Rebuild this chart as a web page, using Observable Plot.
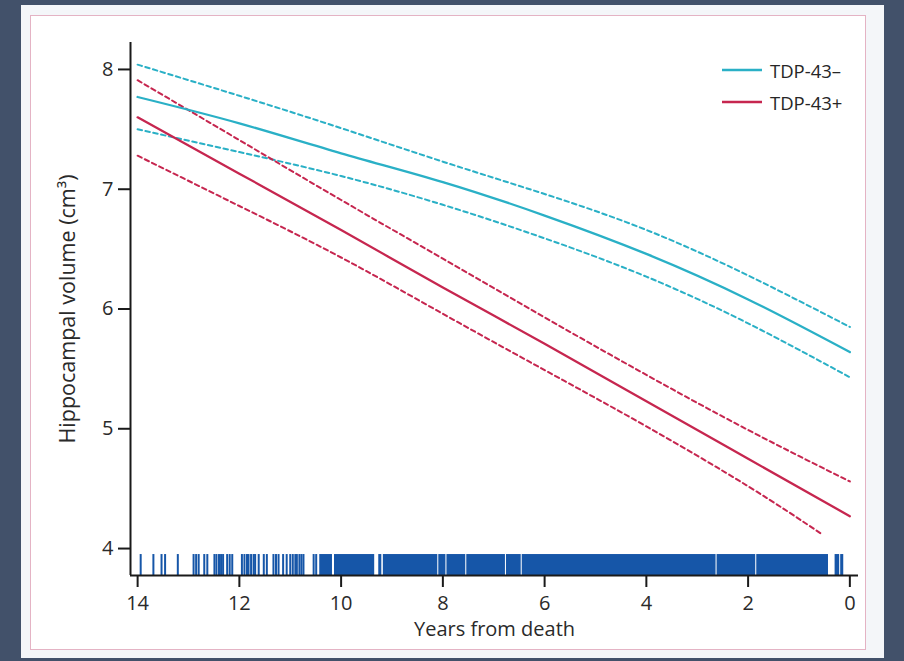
<!DOCTYPE html>
<html>
<head>
<meta charset="utf-8">
<script src="https://cdn.jsdelivr.net/npm/d3@7"></script>
<script src="https://cdn.jsdelivr.net/npm/@observablehq/plot@0.6"></script>
<style>
  html, body { margin: 0; padding: 0; width: 904px; height: 661px; overflow: hidden; background: #42516a; font-family: "Open Sans", sans-serif; }
  #outer { position: absolute; left: 21px; top: 5px; width: 863px; height: 653px; background: #f4f6f9; }
  #inner { position: absolute; left: 30px; top: 15px; width: 836px; height: 635px; background: #ffffff; border: 1.5px solid #e4b3c4; box-sizing: border-box; }
  #chart { position: absolute; left: 0; top: 0; }
  #chart svg { background: transparent; }
  #legend { position: absolute; left: 722px; top: 54px; font-size: 18.5px; color: #262626; }
  #legend .row { display: flex; align-items: center; height: 32px; }
  #legend svg { margin-right: 8px; }
</style>
</head>
<body>
<div id="outer"></div>
<div id="inner"></div>
<div id="chart"></div>
<div id="legend"></div>
<script>
// ---- data ----
const seriesNames = ["TDP-43–", "TDP-43+"];
const seriesColors = ["#2ab0c6", "#c6264f"];

const years = [14, 12, 10, 8, 6, 4, 2, 0];
const tdpNegFit   = [7.77, 7.55, 7.30, 7.06, 6.78, 6.46, 6.08, 5.64];
const tdpNegUpper = [8.04, 7.78, 7.51, 7.23, 6.96, 6.66, 6.28, 5.85];
const tdpNegLower = [7.50, 7.31, 7.11, 6.87, 6.59, 6.27, 5.88, 5.43];
const tdpPosFit   = [7.60, 7.13, 6.66, 6.18, 5.71, 5.23, 4.75, 4.27];
const tdpPosUpper = [7.91, 7.41, 6.91, 6.42, 5.93, 5.45, 4.99, 4.56];
const tdpPosLowerYears = [14, 12, 10, 8, 6, 4, 2, 0.55];
const tdpPosLower = [7.28, 6.86, 6.43, 5.96, 5.49, 5.02, 4.52, 4.12];

// rug: individual observations (years from death)
const rugTicks = [13.94, 13.69, 13.53, 13.46, 13.21, 12.90, 12.85, 12.80, 12.69, 12.63,
  12.49, 12.45, 12.40, 12.36, 12.32, 12.24, 12.19, 12.14, 11.95, 11.90, 11.85, 11.82,
  11.77, 11.72, 11.69, 11.62, 11.52, 11.46, 11.33, 11.28, 11.23, 11.14, 11.07, 11.00,
  10.95, 10.90, 10.87, 10.82, 10.78, 10.74, 10.54, 10.49];
// rug: stretches where observations are packed solid
const rugSpanStart = [10.42, 10.13, 9.26, 9.17, 8.08, 7.92, 7.53, 6.75, 6.44, 2.61, 1.83, 0.29, 0.18];
const rugSpanEnd   = [10.17, 9.34, 9.20, 8.10, 7.94, 7.55, 6.77, 6.46, 2.63, 1.85, 0.42, 0.20, 0.12];

const xTicks = [14, 12, 10, 8, 6, 4, 2, 0];
const yTicks = [4, 5, 6, 7, 8];
const xDomain = [14.14, -0.17];
const yDomain = [3.775, 8.225];
const rugTop = 3.95;

// ---- tables built from arrays ----
const lines = [];
function addSeries(xs, vals, series, kind) {
  xs.forEach((x, i) => lines.push({x, y: vals[i], series, kind, key: series + "|" + kind}));
}
addSeries(years, tdpNegFit, seriesNames[0], "fit");
addSeries(years, tdpNegUpper, seriesNames[0], "upper");
addSeries(years, tdpNegLower, seriesNames[0], "lower");
addSeries(years, tdpPosFit, seriesNames[1], "fit");
addSeries(years, tdpPosUpper, seriesNames[1], "upper");
addSeries(tdpPosLowerYears, tdpPosLower, seriesNames[1], "lower");

const spans = rugSpanStart.map((s, i) => ({x1: s, x2: rugSpanEnd[i]}));
const colorOf = s => seriesColors[seriesNames.indexOf(s)];

const rugColor = "#1656a8";
const axisColor = "#1a1a1a";
const textColor = "#2a2a2a";

const chart = Plot.plot({
  width: 904,
  height: 661,
  marginLeft: 130,
  marginRight: 46,
  marginTop: 42,
  marginBottom: 86,
  style: {fontFamily: "Open Sans, sans-serif", background: "transparent", overflow: "visible"},
  x: {domain: xDomain},
  y: {domain: yDomain},
  marks: [
    // rug
    Plot.rectX(spans, {x1: "x1", x2: "x2", y1: yDomain[0], y2: rugTop, fill: rugColor, inset: 0}),
    Plot.ruleX(rugTicks, {x: d => d, y1: yDomain[0], y2: rugTop, stroke: rugColor, strokeWidth: 2}),
    // confidence bands (dashed)
    Plot.line(lines.filter(d => d.kind !== "fit"), {
      x: "x", y: "y", z: "key", stroke: d => colorOf(d.series),
      strokeWidth: 2, strokeDasharray: "4.5,3.5", curve: "natural"
    }),
    // fitted lines
    Plot.line(lines.filter(d => d.kind === "fit"), {
      x: "x", y: "y", z: "key", stroke: d => colorOf(d.series),
      strokeWidth: 2.3, curve: "natural"
    }),
    // axes
    Plot.ruleX([xDomain[0]], {stroke: axisColor, strokeWidth: 2}),
    Plot.ruleY([yDomain[0]], {stroke: axisColor, strokeWidth: 2}),
    Plot.axisX({ticks: xTicks, tickFormat: d => String(d), tickSize: 12, tickPadding: 8, fontSize: 20, label: null,
      stroke: axisColor, strokeWidth: 2, color: textColor}),
    Plot.axisY({ticks: yTicks, tickFormat: d => String(d), tickSize: 12, tickPadding: 5, fontSize: 20, label: null,
      stroke: axisColor, strokeWidth: 2, color: textColor}),
    Plot.text(["Years from death"], {text: d => d, frameAnchor: "bottom", dy: 46, lineAnchor: "top",
      textAnchor: "middle", fontSize: 20, fill: textColor}),
    Plot.text(["Hippocampal volume (cm³)"], {text: d => d, frameAnchor: "left", dx: -62, rotate: -90,
      textAnchor: "middle", fontSize: 21.5, fill: textColor})
  ]
});
document.getElementById("chart").appendChild(chart);

// legend
const legend = document.getElementById("legend");
seriesNames.forEach((name, i) => {
  const row = document.createElement("div");
  row.className = "row";
  row.innerHTML = `<svg width="40" height="6"><line x1="0" y1="3" x2="40" y2="3" stroke="${seriesColors[i]}" stroke-width="2.6"/></svg><span>${name}</span>`;
  legend.appendChild(row);
});
</script>
</body>
</html>
